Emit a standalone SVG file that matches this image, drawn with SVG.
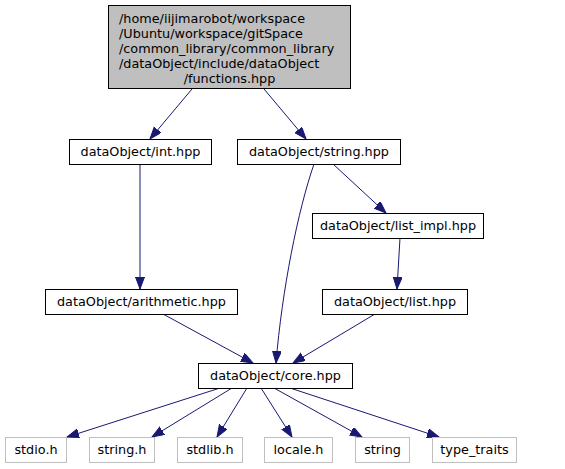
<svg xmlns="http://www.w3.org/2000/svg" width="565" height="469" viewBox="0 0 565 469">
<style>
text{font-family:"DejaVu Sans",sans-serif;font-size:12.8px;fill:#000}
.n rect{fill:#fff;stroke:#000;stroke-width:1}
.g rect{fill:#fff;stroke:#bfbfbf;stroke-width:1}
.r rect{fill:#bfbfbf;stroke:#000;stroke-width:1}
.c{text-anchor:middle}
#edges path{fill:none;stroke:#191970;stroke-width:1;marker-end:url(#a)}
</style>
<defs>
<marker id="a" markerUnits="userSpaceOnUse" markerWidth="13" markerHeight="10" refX="12" refY="4.5" orient="auto">
<path d="M0,0 L12,4.5 L0,9 z" fill="#191970" stroke="#191970" stroke-width="1"/>
</marker>
</defs>
<rect width="565" height="469" fill="#fff"/>
<g id="edges">
<path d="M192,89 L150,139"/>
<path d="M264,89 L306,139"/>
<path d="M140,164 L140,289"/>
<path d="M314,164 C298,210 282,290 276,363"/>
<path d="M333,164 L386,213"/>
<path d="M400,238 L397,289"/>
<path d="M163,314 L253,363"/>
<path d="M375,314 L293,363"/>
<path d="M220,388 L67,437"/>
<path d="M232,388 L152,437"/>
<path d="M247,388 L217,437"/>
<path d="M261,388 L292,437"/>
<path d="M274,388 L362,437"/>
<path d="M290,388 L439,437"/>
</g>
<g id="root" class="r">
<rect x="108.5" y="5.5" width="242" height="83"/>
<text x="119" y="22.5">/home/iijimarobot/workspace</text>
<text x="119" y="37.5">/Ubuntu/workspace/gitSpace</text>
<text x="119" y="52.5">/common_library/common_library</text>
<text x="119" y="67.5">/dataObject/include/dataObject</text>
<text x="229.5" y="82.5" class="c">/functions.hpp</text>
</g>
<g id="int" class="n"><rect x="69.5" y="139.5" width="142" height="25"/><text x="140.5" y="156" class="c">dataObject/int.hpp</text></g>
<g id="string_hpp" class="n"><rect x="237.5" y="139.5" width="163" height="25"/><text x="319" y="156" class="c">dataObject/string.hpp</text></g>
<g id="list_impl" class="n"><rect x="312.5" y="213.5" width="171" height="25"/><text x="398" y="230" class="c">dataObject/list_impl.hpp</text></g>
<g id="arithmetic" class="n"><rect x="45.5" y="289.5" width="192" height="25"/><text x="141.5" y="306" class="c">dataObject/arithmetic.hpp</text></g>
<g id="list" class="n"><rect x="322.5" y="289.5" width="145" height="25"/><text x="395" y="306" class="c">dataObject/list.hpp</text></g>
<g id="core" class="n"><rect x="198.5" y="363.5" width="154" height="25"/><text x="275.5" y="380" class="c">dataObject/core.hpp</text></g>
<g id="stdio" class="g"><rect x="5.5" y="437.5" width="61" height="25"/><text x="36" y="454" class="c">stdio.h</text></g>
<g id="string_h" class="g"><rect x="89.5" y="437.5" width="65" height="25"/><text x="122" y="454" class="c">string.h</text></g>
<g id="stdlib" class="g"><rect x="177.5" y="437.5" width="65" height="25"/><text x="210" y="454" class="c">stdlib.h</text></g>
<g id="locale" class="g"><rect x="264.5" y="437.5" width="68" height="25"/><text x="298.5" y="454" class="c">locale.h</text></g>
<g id="string" class="g"><rect x="355.5" y="437.5" width="54" height="25"/><text x="382.5" y="454" class="c">string</text></g>
<g id="type_traits" class="g"><rect x="432.5" y="437.5" width="84" height="25"/><text x="474.5" y="454" class="c">type_traits</text></g>
</svg>
